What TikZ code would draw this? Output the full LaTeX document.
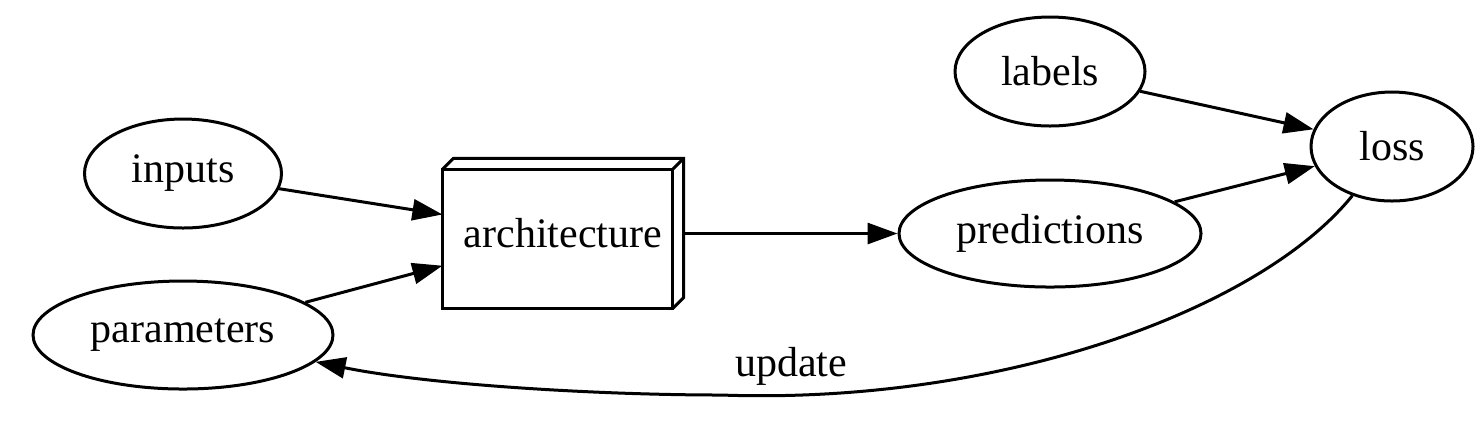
\documentclass[tikz,border=0pt]{standalone}
\usepackage{fontspec}
\setmainfont{Liberation Serif}
\newfontfamily\gvfont{Liberation Serif}
\usetikzlibrary{shapes.geometric,arrows.meta,calc}
\tikzset{
  gvnode/.style={ellipse,draw,line width=1pt,inner sep=0pt,font=\gvfont\fontsize{14pt}{16pt}\selectfont},
  gvbox/.style={rectangle,inner sep=0pt,minimum width=80pt,minimum height=49.67pt,font=\gvfont\fontsize{14pt}{16pt}\selectfont},
  gvedge/.style={line width=1pt,-{Triangle[length=10pt,width=7pt]}},
  gvline/.style={line width=1pt,line join=miter},
  gvlabel/.style={inner sep=0pt,font=\gvfont\fontsize{14pt}{16pt}\selectfont}
}
\begin{document}
\begin{tikzpicture}[x=0.33333pt,y=-0.33333pt]
\useasboundingbox (0,0) rectangle (1475,430);
\node[gvnode,minimum width=63.33pt,minimum height=36.33pt] (labels) at (1050,71.5) {labels};
\node[gvnode,minimum width=54pt,minimum height=36.33pt] (loss) at (1392,146.5) {loss};
\node[gvnode,minimum width=65.67pt,minimum height=36.33pt] (inputs) at (183,173.5) {inputs};
\node[gvnode,minimum width=100.67pt,minimum height=35.67pt] (predictions) at (1050,233.5) {predictions};
\node[gvnode,minimum width=100pt,minimum height=36pt] (parameters) at (183,335) {parameters};
\node[gvbox] (arch) at (563,233.5) {architecture};
% box3d outline
\draw[gvline] (arch.south west) rectangle ($(arch.north east)+(-11,11)$);
\draw[gvline] ($(arch.north west)+(0,11)$) -- ($(arch.north west)+(11,0)$) -- (arch.north east) -- ($(arch.south east)+(0,-11)$) -- ($(arch.south east)+(-11,0)$);
\draw[gvline] ($(arch.north east)+(-11,11)$) -- (arch.north east);
% edges
\draw[gvedge] (inputs) -- (arch);
\draw[gvedge] (parameters) -- (arch);
\draw[gvedge] (arch) -- (predictions);
\draw[gvedge] (labels) -- (loss);
\draw[gvedge] (predictions) -- (loss);
\coordinate (ubottom) at (721,395);
\draw[gvedge] (loss) .. controls (1260,310) and (1000,405) .. (ubottom) .. controls (600,395) and (430,385) .. (parameters);
\node[gvlabel] (update) at (791,366) {update};
\end{tikzpicture}
\end{document}
